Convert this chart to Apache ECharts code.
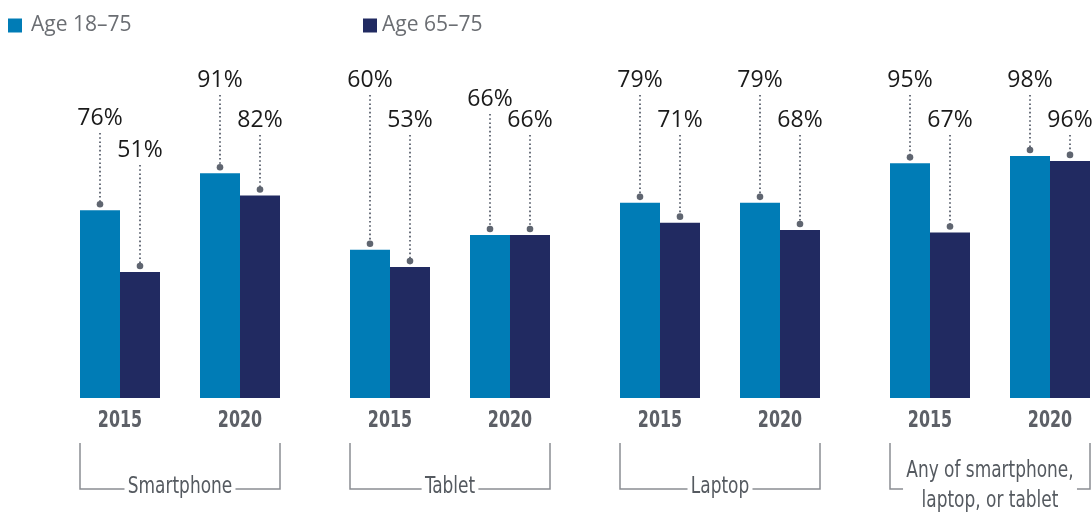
<!DOCTYPE html>
<html>
<head>
<meta charset="utf-8">
<script src="https://cdn.jsdelivr.net/npm/echarts@6/dist/echarts.min.js"></script>
<style>
  html, body { margin: 0; padding: 0; background: #fff; }
  #main { width: 1092px; height: 514px; }
</style>
</head>
<body>
<div id="main"></div>
<script>
// data
const groups = ['Smartphone', 'Tablet', 'Laptop', 'Any of smartphone,\nlaptop, or tablet'];
const years = ['2015', '2020'];
const age1875 = [76, 91, 60, 66, 79, 79, 95, 98];
const age6575 = [51, 82, 53, 66, 71, 68, 67, 96];
const seriesNames = ['Age 18–75', 'Age 65–75'];

// layout: each group uses 9 slots, years are 4 slots apart
const SLOTS = 32;
const slotOf = i => Math.floor(i / 2) * 9 + (i % 2) * 4;
// vertical pixel row of each value label
const labelRowA = [118, 80, 80, 99, 80, 80, 80, 80];
const labelRowB = [150, 120, 120, 120, 120, 120, 120, 120];

const colA = '#007CB6', colB = '#212A61';
const condensed = '"DejaVu Sans Condensed", "DejaVu Sans", sans-serif';

const slotCats = new Array(SLOTS).fill('');
const slotA = new Array(SLOTS).fill('-');
const slotB = new Array(SLOTS).fill('-');
age1875.forEach((v, i) => {
  const s = slotOf(i);
  slotCats[s] = years[i % 2];
  slotA[s] = v;
  slotB[s] = age6575[i];
});

function leader(values, rows, offset) {
  return {
    type: 'custom',
    silent: true,
    z: 5,
    data: values.map((v, i) => [slotOf(i), v, i]),
    renderItem: function (params, api) {
      const i = api.value(2);
      const v = api.value(1);
      const p = api.coord([api.value(0), v]);
      const x = p[0] + offset;
      const dotY = p[1] - 6;
      const ly = rows[i];
      return {
        type: 'group',
        children: [
          { type: 'line', shape: { x1: x, y1: ly + 15, x2: x, y2: dotY },
            style: { stroke: '#6b717c', lineWidth: 2, lineDash: [1.6, 2.6] } },
          { type: 'circle', shape: { cx: x, cy: dotY, r: 3.3 },
            style: { fill: '#5f6570' } },
          { type: 'text', x: x, y: ly,
            style: { text: v + '%', fill: '#1a1a1a', font: '23px "Open Sans"',
                     align: 'center', verticalAlign: 'middle' } }
        ]
      };
    }
  };
}

// year labels under each pair, drawn narrow like a condensed face
const yearLabels = {
  type: 'custom',
  silent: true,
  data: age1875.map((v, i) => [slotOf(i), 0, i]),
  renderItem: function (params, api) {
    const p = api.coord([api.value(0), 0]);
    return {
      type: 'text', x: p[0], y: p[1] + 23.5, scaleX: 0.77,
      style: { text: years[api.value(2) % 2], fill: '#5d6067', align: 'center', verticalAlign: 'middle',
               font: 'bold 23px ' + condensed }
    };
  }
};

const chart = echarts.init(document.getElementById('main'));
const legendText = { fontFamily: 'Open Sans', fontSize: 21, color: '#6b6e73' };
chart.setOption({
  animation: false,
  legend: [
    { left: 3, top: 10, data: [seriesNames[0]], icon: 'rect', itemWidth: 14, itemHeight: 14,
      selectedMode: false, textStyle: Object.assign({ padding: [0, 0, 0, 4] }, legendText) },
    { left: 358, top: 10, data: [seriesNames[1]], icon: 'rect', itemWidth: 14, itemHeight: 14,
      selectedMode: false, textStyle: legendText }
  ],
  grid: { left: 105, right: 27, top: 151, bottom: 116 },
  xAxis: {
    type: 'category',
    data: slotCats,
    axisLine: { show: false },
    axisTick: { show: false },
    axisLabel: { show: false }
  },
  yAxis: { type: 'value', min: 0, max: 100, show: false, splitLine: { show: false } },
  series: [
    { name: seriesNames[0], type: 'bar', data: slotA, barWidth: 40, barGap: '0%', clip: false,
      itemStyle: { color: colA } },
    { name: seriesNames[1], type: 'bar', data: slotB, barWidth: 40, barGap: '0%', clip: false,
      itemStyle: { color: colB } },
    leader(age1875, labelRowA, -20),
    leader(age6575, labelRowB, 20),
    yearLabels
  ]
});

// group brackets under the year labels
const graphics = [];
groups.forEach((name, g) => {
  const xL = chart.convertToPixel({ xAxisIndex: 0 }, g * 9) - 40;
  const xR = chart.convertToPixel({ xAxisIndex: 0 }, g * 9 + 4) + 40;
  const yTop = 443, yLine = 489;
  graphics.push({
    type: 'polyline', z: 1,
    shape: { points: [[xL, yTop], [xL, yLine], [xR, yLine], [xR, yTop]] },
    style: { stroke: '#8a8d92', lineWidth: 1.5, fill: null }
  });
  graphics.push({
    type: 'text', z: 2, x: (xL + xR) / 2, y: name.indexOf('\n') >= 0 ? 486 : 487, scaleX: 0.82,
    style: {
      text: name, align: 'center', verticalAlign: 'middle',
      font: '23px ' + condensed,
      fill: '#555a60', lineHeight: 30, backgroundColor: '#fff', padding: [0, 4]
    }
  });
});
chart.setOption({ graphic: graphics });
</script>
</body>
</html>
